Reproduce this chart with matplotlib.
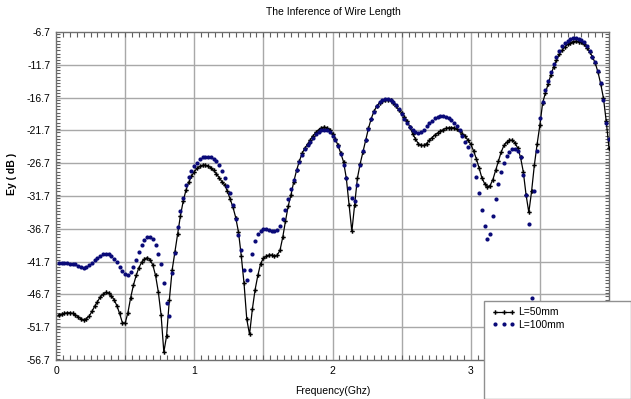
import numpy as np
import matplotlib
matplotlib.use("Agg")
import matplotlib.pyplot as plt
from matplotlib.patches import Rectangle
from matplotlib.ticker import MultipleLocator

# frequency sweep (GHz), 0.02 GHz step
freq = np.round(np.arange(0.02, 4.001, 0.02), 2)

# Ey (dB) for L=50mm
ey_50 = [
    -49.8, -49.7, -49.6, -49.5, -49.5, -49.6, -49.8, -50.1, -50.4, -50.6,   # 0.02-0.20
    -50.4, -50.0, -49.3, -48.5, -47.8, -47.1, -46.7, -46.4, -46.5, -46.9,   # 0.22-0.40
    -47.5, -48.4, -49.6, -51.0, -51.1, -49.5, -47.2, -45.3, -43.8, -42.6,   # 0.42-0.60
    -41.8, -41.3, -41.1, -41.4, -42.2, -43.8, -46.3, -49.8, -55.5, -53.0,   # 0.62-0.80
    -47.5, -43.0, -40.2, -37.5, -34.7, -32.5, -30.8, -29.6, -28.7, -28.0,   # 0.82-1.00
    -27.5, -27.2, -27.0, -27.0, -27.1, -27.4, -27.8, -28.3, -28.9, -29.5,   # 1.02-1.20
    -30.0, -31.0, -32.2, -33.4, -35.0, -37.2, -40.8, -45.0, -50.5, -52.8,   # 1.22-1.40
    -49.0, -46.0, -43.8, -42.0, -41.2, -40.9, -40.7, -40.7, -40.9, -40.7,   # 1.42-1.60
    -40.0, -38.0, -35.5, -33.2, -31.5, -29.5, -27.8, -26.4, -25.2, -24.4,   # 1.62-1.80
    -23.8, -23.1, -22.5, -22.0, -21.6, -21.3, -21.2, -21.3, -21.6, -22.2,   # 1.82-2.00
    -23.0, -24.0, -25.2, -26.5, -29.0, -33.0, -37.1, -33.0, -29.0, -26.8,   # 2.02-2.20
    -25.0, -23.2, -21.4, -19.9, -18.8, -18.0, -17.5, -17.2, -17.0, -17.0,   # 2.22-2.40
    -17.1, -17.5, -18.0, -18.6, -19.0, -19.6, -20.3, -21.2, -22.2, -23.0,   # 2.42-2.60
    -23.7, -24.0, -24.0, -23.7, -23.2, -22.8, -22.4, -22.1, -21.8, -21.6,   # 2.62-2.80
    -21.4, -21.3, -21.3, -21.3, -21.5, -21.8, -22.2, -22.6, -23.2, -23.8,   # 2.82-3.00
    -24.8, -26.0, -27.4, -28.9, -29.8, -30.3, -30.1, -29.2, -27.8, -26.4,   # 3.02-3.20
    -25.0, -24.0, -23.5, -23.2, -23.2, -23.6, -24.4, -25.8, -28.0, -31.5,   # 3.22-3.40
    -34.2, -31.0, -27.0, -23.8, -20.9, -17.5, -16.0, -14.6, -13.2, -12.0,   # 3.42-3.60
    -11.0, -10.1, -9.5, -9.0, -8.6, -8.35, -8.15, -8.1, -8.15, -8.3,        # 3.62-3.80
    -8.6, -9.1, -9.7, -10.5, -11.4, -12.8, -14.6, -16.8, -20.3, -24.4,      # 3.82-4.00
]

# Ey (dB) for L=100mm
ey_100 = [
    -41.9, -41.9, -41.9, -41.9, -42.0, -42.0, -42.1, -42.3, -42.5, -42.6,   # 0.02-0.20
    -42.5, -42.2, -41.9, -41.5, -41.1, -40.8, -40.6, -40.5, -40.6, -40.9,   # 0.22-0.40
    -41.3, -41.8, -42.5, -43.2, -43.6, -43.7, -43.3, -42.5, -41.4, -40.2,   # 0.42-0.60
    -39.1, -38.4, -38.0, -37.9, -38.3, -39.2, -40.5, -42.0, -45.0, -48.0,   # 0.62-0.80
    -50.0, -43.5, -40.4, -36.5, -34.0, -32.0, -30.0, -28.8, -27.9, -27.2,   # 0.82-1.00
    -26.6, -26.1, -25.8, -25.7, -25.7, -25.8, -26.0, -26.4, -27.0, -27.9,   # 1.02-1.20
    -29.0, -30.2, -31.3, -33.0, -35.2, -37.6, -40.0, -43.0, -44.5, -43.0,   # 1.22-1.40
    -40.5, -38.5, -37.5, -37.0, -36.8, -36.8, -36.9, -37.0, -37.1, -36.9,   # 1.42-1.60
    -36.2, -35.2, -33.8, -32.2, -30.6, -29.2, -27.8, -26.5, -25.4, -24.6,   # 1.62-1.80
    -24.0, -23.4, -22.8, -22.3, -21.9, -21.7, -21.6, -21.7, -22.0, -22.5,   # 1.82-2.00
    -23.2, -24.1, -25.3, -27.0, -29.0, -30.5, -32.0, -32.5, -30.0, -27.0,   # 2.02-2.20
    -24.8, -23.2, -21.5, -20.0, -18.9, -18.0, -17.4, -17.1, -16.9, -16.9,   # 2.22-2.40
    -17.1, -17.4, -17.9, -18.5, -19.2, -19.9, -20.6, -21.2, -21.7, -22.0,   # 2.42-2.60
    -22.1, -22.0, -21.6, -21.1, -20.6, -20.2, -19.8, -19.6, -19.5, -19.5,   # 2.62-2.80
    -19.6, -19.8, -20.1, -20.5, -21.0, -21.7, -22.5, -23.4, -24.3, -25.5,   # 2.82-3.00
    -27.0, -28.8, -31.3, -33.8, -36.2, -38.2, -37.5, -34.8, -32.2, -29.8,   # 3.02-3.20
    -28.0, -26.7, -25.6, -25.0, -24.6, -24.6, -24.9, -25.8, -28.5, -31.5,   # 3.22-3.40
    -36.0, -47.2, -31.0, -24.9, -19.8, -17.4, -15.6, -14.2, -12.8, -11.6,   # 3.42-3.60
    -10.5, -9.6, -8.9, -8.4, -8.0, -7.75, -7.6, -7.6, -7.7, -7.9,           # 3.62-3.80
    -8.3, -8.9, -9.6, -10.5, -11.3, -12.6, -14.5, -17.0, -20.5, -23.0,      # 3.82-4.00
]

y_ticks = [-6.7, -11.7, -16.7, -21.7, -26.7, -31.7, -36.7, -41.7, -46.7, -51.7, -56.7]
x_ticks = [0, 1, 2, 3, 4]

plt.rcParams['font.family'] = ['Liberation Sans', 'DejaVu Sans']
plt.rcParams['font.size'] = 7.5

W, H = 631, 399
fig = plt.figure(figsize=(W / 100, H / 100), dpi=100)
ax = fig.add_axes([56 / W, 1 - 360 / H, (609 - 56) / W, (360 - 32) / H])

ax.plot(freq, ey_50, color='black', lw=0.9, marker='P', ms=3.2, mew=0,
        label='L=50mm', zorder=3)
ax.plot(freq, ey_100, ls='none', marker='o', ms=3.0, mew=0, color='#0a0a78',
        label='L=100mm', zorder=4)

ax.set_xlim(0, 4)
ax.set_ylim(-56.7, -6.7)
ax.set_xticks(x_ticks)
ax.set_xticklabels([str(v) for v in x_ticks])
ax.set_yticks(y_ticks)
ax.set_yticklabels([str(v) for v in y_ticks])
ax.xaxis.set_minor_locator(MultipleLocator(0.05))
ax.yaxis.set_minor_locator(MultipleLocator(0.5))

# grid every 0.5 GHz and every 5 dB
for gx in np.arange(0.5, 4.0, 0.5):
    ax.axvline(gx, color='#a8a8a8', lw=1, zorder=1)
for gy in y_ticks[1:-1]:
    ax.axhline(gy, color='#a8a8a8', lw=1, zorder=1)

ax.tick_params(which='both', direction='in', top=True, right=True,
               color='#606060', width=0.8)
ax.tick_params(which='major', length=0, pad=4, labelsize=7.5)
ax.tick_params(axis='x', which='minor', length=3.5)
ax.tick_params(axis='y', which='minor', length=2.8)
for s in ax.spines.values():
    s.set_color('#707070')
    s.set_linewidth(1)

fig.text(333 / W, 1 - 12 / H, 'The Inference of Wire Length', ha='center', va='center', fontsize=7.5)
fig.text(333 / W, 1 - 391 / H, 'Frequency(Ghz)', ha='center', va='center', fontsize=7.5)
fig.text(12 / W, 1 - 174 / H, 'Ey ( dB )', ha='center', va='center', rotation=90,
         fontsize=7.5, fontweight='bold')

# legend box sitting over the lower right corner
box = Rectangle((484 / W, 0), 1 - 484 / W, 1 - 301 / H, transform=fig.transFigure,
                facecolor='white', edgecolor='#909090', lw=1, zorder=5)
fig.patches.append(box)
leg = fig.legend(loc='upper left', bbox_to_anchor=(484 / W, 1 - 299 / H),
                 frameon=False, numpoints=3, handlelength=2.2, handletextpad=0.3,
                 labelspacing=0.25, borderpad=0.3, fontsize=7.5)
leg.set_zorder(6)

fig.savefig('out.png', dpi=100)
